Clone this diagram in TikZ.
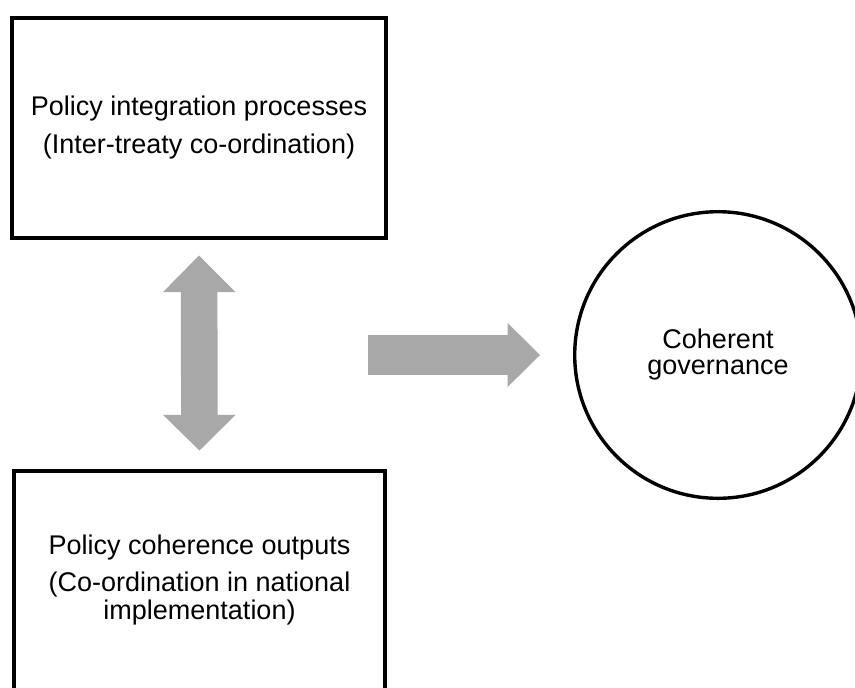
\documentclass[tikz,border=0pt]{standalone}
\usepackage{fontspec}
\setmainfont{Liberation Sans}
\usetikzlibrary{arrows.meta}
\definecolor{arrowgray}{HTML}{A8A8A8}
\newcommand{\boxfont}{\fontsize{13.5}{14}\selectfont}
\begin{document}
\begin{tikzpicture}[x=0.5pt, y=-0.5pt,
  box/.style={draw, line width=2pt, minimum width=187pt, minimum height=110pt, align=center, font=\boxfont},
  goal/.style={draw, circle, line width=1.7pt, minimum size=143.3pt, align=center, font=\boxfont},
  updown/.style={draw=arrowgray, line width=18.3pt,
    {Triangle[length=18.3pt, width=36.2pt, line width=0pt]}-{Triangle[length=17.8pt, width=36.2pt, line width=0pt]}},
  onward/.style={draw=arrowgray, line width=19.8pt,
    -{Triangle[length=16.2pt, width=32pt, line width=0pt]}}]
\useasboundingbox (0,0) rectangle (855,687);
\node[box] (P_0_0) at (199,127.5) {Policy integration processes\\[5pt](Inter-treaty co-ordination)};
\node[box, minimum width=185.5pt] (P_0_1) at (199.5,580.5) {Policy coherence outputs\\[4.5pt](Co-ordination in national\\implementation)};
\node[goal] (P_1_0) at (718,355) {Coherent\\[-1pt]governance};
\coordinate (A_0) at (368,355);
\draw[updown, shorten <=8pt, shorten >=9pt] (P_0_0.south) -- (P_0_1.north);
\draw[onward, shorten >=16.5pt] (A_0) -- (P_1_0.west);
\end{tikzpicture}
\end{document}
